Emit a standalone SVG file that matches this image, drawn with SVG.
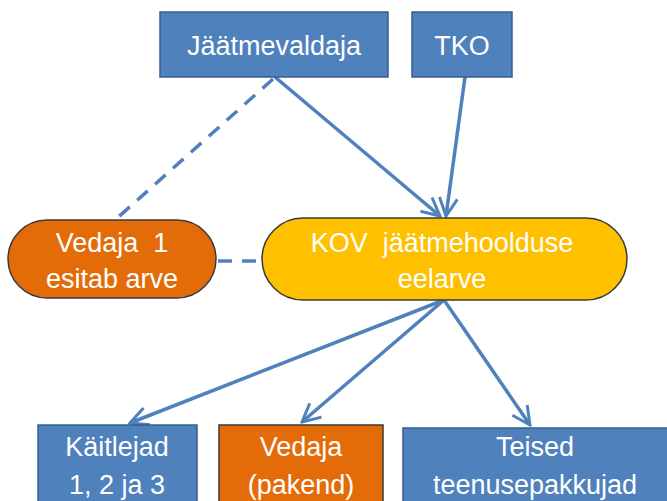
<svg xmlns="http://www.w3.org/2000/svg" width="667" height="501" viewBox="0 0 667 501">
<defs>
<marker id="arr" viewBox="0 0 22 22" refX="20" refY="11" markerWidth="22" markerHeight="22" markerUnits="userSpaceOnUse" orient="auto">
<path d="M2,2 L20,11 L2,20" fill="none" stroke="#4f81bd" stroke-width="3"/>
</marker>
<style>
.blue{fill:#4f81bd;stroke:#385d8a;stroke-width:1.5}
.orange{fill:#e36c09;stroke:#3a3a3a;stroke-width:1.5}
.yellow{fill:#ffc000;stroke:#3a3a3a;stroke-width:1.5}
text{font-family:"Liberation Sans",Arial,sans-serif;font-size:27px;fill:#ffffff;text-anchor:middle;white-space:pre}
.c{fill:none;stroke:#4f81bd;stroke-width:3.5}
.d{stroke-dasharray:14,10}
</style>
</defs>
<g id="connectors">
<line class="c" x1="275" y1="77" x2="440" y2="216" marker-end="url(#arr)"/>
<line class="c" x1="465" y1="77" x2="446" y2="216" marker-end="url(#arr)"/>
<line class="c d" x1="273" y1="79" x2="115" y2="220"/>
<line class="c d" x1="218" y1="261" x2="262" y2="261"/>
<line class="c" x1="444" y1="300" x2="130" y2="423" marker-end="url(#arr)"/>
<line class="c" x1="444" y1="300" x2="302" y2="422" marker-end="url(#arr)"/>
<line class="c" x1="444" y1="300" x2="530" y2="425" marker-end="url(#arr)"/>
</g>
<g id="jaatmevaldaja">
<rect class="blue" x="160" y="12" width="228" height="65"/>
<text x="274" y="55">Jäätmevaldaja</text>
</g>
<g id="tko">
<rect class="blue" x="412" y="12" width="100" height="65"/>
<text x="462" y="55">TKO</text>
</g>
<g id="vedaja1">
<rect class="orange" x="8" y="220" width="208" height="78" rx="39"/>
<text x="112" y="252" xml:space="preserve">Vedaja  1</text>
<text x="112" y="288">esitab arve</text>
</g>
<g id="kov">
<rect class="yellow" x="262" y="218" width="365" height="82" rx="41"/>
<text x="442" y="252" xml:space="preserve">KOV  jäätmehoolduse</text>
<text x="442" y="288">eelarve</text>
</g>
<g id="kaitlejad">
<rect class="blue" x="38" y="425" width="159" height="90"/>
<text x="117" y="456">Käitlejad</text>
<text x="117" y="494">1, 2 ja 3</text>
</g>
<g id="vedaja-pakend">
<rect class="orange" x="219" y="425" width="164" height="90"/>
<text x="301" y="456">Vedaja</text>
<text x="301" y="494">(pakend)</text>
</g>
<g id="teised">
<rect class="blue" x="403" y="428" width="270" height="90"/>
<text x="535" y="456">Teised</text>
<text x="535" y="494">teenusepakkujad</text>
</g>
</svg>
